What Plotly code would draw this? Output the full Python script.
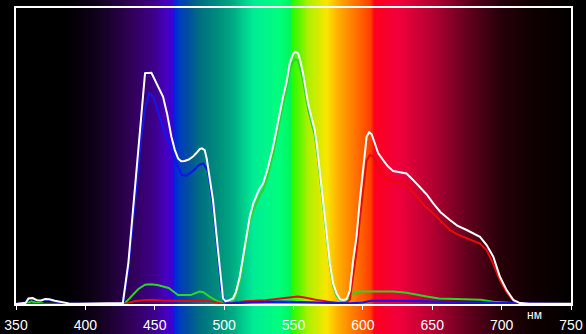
import plotly.graph_objects as go

# ---- data (relative intensity, %, vs wavelength nm) ----
white_nm = [350, 357, 359, 362, 365, 368, 371, 374, 378, 383, 388, 395, 420, 427, 431, 434.3, 437, 439.1, 441.5, 443,
            447.6, 452, 456, 459, 462, 464.5, 466.8, 469, 471.6, 474.5, 477.6, 480, 482.4, 484, 486, 487.5, 488.4, 490,
            492, 495.6, 498, 499.2, 501, 502.8, 504.2, 506.4, 508.5, 511.3, 514, 518.5, 521, 523.3, 525, 528.1, 531,
            535.3, 539, 542.5, 545, 547.3, 549.5, 551, 553.3, 555, 556.9, 560.5, 563, 565.3, 567, 568.9, 572.5, 576.2,
            578.5, 581, 583.5, 585.8, 588.2, 590.6, 593, 595.4, 597.8, 600, 602.7, 604.5, 606.3, 608.6, 611, 614.6,
            618, 621.8, 626, 631.5, 636, 641.1, 646, 650.7, 656, 662.7, 668, 674.8, 680, 684.4, 689.2, 694, 698.8,
            703.6, 708.4, 713.2, 720, 750]
white_val = [0, 0.4, 1.9, 2.0, 1.3, 1.2, 1.7, 1.6, 1.1, 0.6, 0.2, 0.1, 0.1, 0.3, 14, 31.8, 47, 57.7, 72.3, 78,
             78.1, 74, 70, 64, 56.5, 52, 49.2, 48.2, 48.3, 48.8, 49.8, 51, 52.3, 52.6, 52, 49, 46.4, 41,
             35.1, 18.2, 6, 1.9, 0.9, 1.1, 1.4, 1.9, 4, 9.2, 17, 29.5, 34, 36.3, 38.5, 40.8, 45,
             53.1, 62, 70, 75, 81.3, 84.2, 85.2, 84.7, 82, 77.9, 67.8, 63, 58.8, 53, 45.3, 29.5, 13.8,
             7, 3.6, 1.6, 1.4, 1.6, 4.5, 14.9, 22.7, 35, 44, 56.5, 58, 57.4, 54.3, 51, 48.6,
             46.5, 44.9, 44.6, 44.1, 42, 39.6, 37, 34, 31, 28.4, 26.5, 25, 23.8, 22.7, 19.9, 16, 9.2,
             4.7, 1.4, 0.3, 0.1, 0.1]

blue_nm = [350, 357, 359, 362, 365, 368, 371, 374, 378, 383, 388, 420, 427, 431, 434, 437, 440, 443, 446, 449, 453,
           457, 462, 466, 469.5, 473, 477.6, 482, 485, 487, 488.4, 490, 492, 495.6, 498, 500, 502, 505, 520, 540,
           560, 580, 590, 600, 606, 620, 640, 660, 680, 700, 712, 750]
blue_val = [0, 0.5, 1.7, 1.8, 1.2, 1.0, 1.5, 1.4, 0.9, 0.4, 0.1, 0, 0.2, 12, 27, 40, 55, 66, 71.2, 70, 64,
            58, 53.1, 47, 43.6, 43.4, 45, 47, 47.5, 46, 45, 40, 33.5, 17, 5, 1, 0.3, 0.2, 0.6, 0.8,
            0.6, 0.3, 0.2, 0.5, 1.1, 1.1, 1.0, 0.6, 0.5, 0.3, 0.1, 0]

green_nm = [350, 358, 361, 364, 370, 380, 427, 429, 433, 438, 443, 446.7, 452, 456, 460, 466.8, 472, 476, 480, 482.4,
            485, 489.5, 495, 499, 502, 504, 506.4, 508.5, 511.3, 514, 518.5, 521, 523.3, 525, 528.1, 531, 535.3,
            539, 542.5, 545, 547.3, 549.5, 551, 553.3, 555, 556.9, 560.5, 563, 565.3, 567, 568.9, 572.5, 576.2,
            578.5, 581, 583.5, 585.8, 588.2, 590.6, 594, 598, 602.7, 608, 615, 622, 631.5, 640, 646, 655, 670,
            685, 694, 700, 705, 712, 750]
green_val = [0, 0.3, 0.9, 0.5, 0.2, 0, 0, 0.5, 2.5, 5, 6.5, 6.7, 6.4, 5.9, 5.4, 3.0, 2.9, 3.0, 3.8, 4.2,
             4.0, 2.5, 1, 0.2, 0.2, 0.5, 1.0, 2.8, 7.6, 15.4, 27.6, 31.5, 33.8, 36, 38.5, 42.5, 50.6,
             59.5, 67.5, 72.5, 78.8, 81.7, 82.7, 82.2, 79.5, 75.6, 65.8, 61, 57, 51.4, 44, 28.5, 13,
             6.3, 2.9, 1.2, 0.9, 1.3, 2.6, 3.8, 4.2, 4.2, 4.4, 4.3, 4.2, 3.8, 3.0, 2.5, 1.9, 1.6,
             1.4, 0.8, 0.7, 0.4, 0.1, 0]

red_nm = [350, 427, 430, 436, 442, 448, 455, 465, 475, 485, 492, 498, 502, 505, 515, 530, 540, 548, 553, 558, 565,
          575, 582, 586, 588, 590.6, 593, 595.4, 597.8, 600, 602.7, 605, 607.4, 610, 614.6, 621.8, 629, 633, 638.7,
          645, 650.7, 656, 662.7, 668, 674.8, 680, 684.4, 689.2, 694, 698.8, 703.6, 708.4, 713.2, 720, 750]
red_val = [0, 0, 0.3, 1.0, 1.3, 1.4, 1.2, 1.0, 1.0, 1.2, 0.8, 0.2, 0, 0.3, 0.9, 1.3, 1.8, 2.3, 2.5, 2.2, 1.5,
           0.8, 0.3, 0.3, 0.5, 1.5, 10, 17.5, 28.5, 38, 48.5, 50.3, 49.8, 47, 43.0, 41.3, 40.8, 39.5, 36.3,
           33, 30.6, 28, 25, 23.5, 22.2, 21.2, 20.4, 18.2, 13.5, 8, 4, 1.2, 0.2, 0, 0]

tick_vals = [350, 400, 450, 500, 550, 600, 650, 700, 750]
unit_label = "нм"

# background spectrum colour stops (style only)
spectrum_stops = [(350, (0, 0, 0)), (385, (0, 0, 0)), (400, (10, 0, 18)), (410, (18, 3, 30)), (434, (50, 0, 90)),
                  (450, (62, 0, 140)), (458, (70, 0, 190)), (463, (60, 0, 210)), (464, (0, 35, 225)),
                  (468, (0, 60, 190)), (473, (0, 75, 165)), (482, (0, 110, 130)), (495, (0, 140, 125)),
                  (506, (0, 170, 130)), (521, (0, 235, 150)), (540, (0, 255, 125)), (548, (0, 245, 90)),
                  (549, (40, 250, 0)), (555, (100, 245, 0)), (560, (170, 240, 0)), (574, (250, 230, 0)),
                  (583, (255, 170, 0)), (598, (255, 100, 0)), (606, (255, 60, 0)), (608, (255, 0, 30)),
                  (626, (240, 0, 60)), (650, (180, 0, 50)), (675, (100, 0, 30)), (699, (40, 0, 10)),
                  (723, (15, 0, 0)), (747, (5, 0, 0)), (750, (0, 0, 0))]


def spec_color(w):
    for (w0, c0), (w1, c1) in zip(spectrum_stops[:-1], spectrum_stops[1:]):
        if w0 <= w <= w1:
            t = 0 if w1 == w0 else (w - w0) / (w1 - w0)
            c = [round(a + (b - a) * t) for a, b in zip(c0, c1)]
            return "rgb(%d,%d,%d)" % tuple(c)
    return "rgb(0,0,0)"


shapes = []
for w in range(350, 750):
    shapes.append(dict(type="rect", xref="x", yref="paper", x0=w, x1=w + 2, y0=-0.12, y1=1.04,
                       fillcolor=spec_color(w + 0.5), line=dict(width=0), layer="below"))

fig = go.Figure()
fig.add_trace(go.Scatter(x=green_nm, y=green_val, mode="lines", line=dict(color="rgb(40,215,40)", width=2)))
fig.add_trace(go.Scatter(x=red_nm, y=red_val, mode="lines", line=dict(color="rgb(235,10,10)", width=2)))
fig.add_trace(go.Scatter(x=blue_nm, y=blue_val, mode="lines", line=dict(color="rgb(20,20,235)", width=2.2)))
fig.add_trace(go.Scatter(x=white_nm, y=white_val, mode="lines", line=dict(color="white", width=2)))

fig.update_layout(
    template="none",
    width=586, height=334, autosize=False,
    margin=dict(l=16, r=15, t=8, b=30, pad=0, autoexpand=False),
    paper_bgcolor="black", plot_bgcolor="black",
    showlegend=False,
    shapes=shapes,
    xaxis=dict(range=[350, 750], tickvals=tick_vals, ticks="outside", ticklen=4, tickcolor="white", tickwidth=1,
               showline=True, mirror=True, linecolor="white", linewidth=2, showgrid=False, zeroline=False,
               automargin=False, ticklabelstandoff=3,
               tickfont=dict(family="Liberation Sans Narrow, Liberation Sans, Arial", size=14, color="white")),
    yaxis=dict(range=[0, 100], showticklabels=False, ticks="", showline=True, mirror=True, automargin=False,
               linecolor="white", linewidth=2, showgrid=False, zeroline=False),
    annotations=[dict(x=724, y=-0.068, xref="x", yref="paper", text=unit_label, showarrow=False,
                      font=dict(family="Liberation Sans, Arial", size=12, color="white"))],
)

fig.write_html("out.html")
